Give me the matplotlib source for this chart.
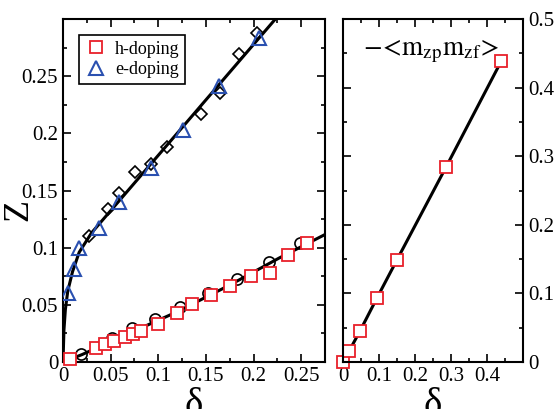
# Z vs doping, with <m_zp m_zf> correlation on the right
import matplotlib
matplotlib.use('Agg')
import matplotlib.pyplot as plt
from matplotlib.ticker import MultipleLocator

plt.rcParams['font.family'] = ['Liberation Serif', 'DejaVu Serif']
plt.rcParams['mathtext.fontset'] = 'stix'

# left panel, h-doping (red squares) and black circles
h_x = [0.0073, 0.035, 0.044, 0.054, 0.065, 0.0735, 0.0823, 0.0997, 0.12, 0.1357,
       0.1555, 0.1757, 0.197, 0.2176, 0.2364, 0.2566]
h_y = [0.0023, 0.0125, 0.0155, 0.0187, 0.0216, 0.0245, 0.0274, 0.033, 0.0431, 0.0507,
       0.0586, 0.0667, 0.0752, 0.078, 0.0935, 0.1037]
circ_x = [0.0188, 0.051, 0.0725, 0.0962, 0.1224, 0.152, 0.1823, 0.2158, 0.249]
circ_y = [0.007, 0.0207, 0.0294, 0.038, 0.0484, 0.06, 0.073, 0.0877, 0.1037]
low_fit_x = [0, 0.02, 0.07, 0.12, 0.175, 0.227, 0.275]
low_fit_y = [0, 0.0065, 0.0253, 0.044, 0.0673, 0.091, 0.1115]

# e-doping (blue triangles) and black diamonds
e_x = [0.0056, 0.0115, 0.017, 0.038, 0.059, 0.092, 0.126, 0.164, 0.206]
e_y = [0.06, 0.0813, 0.0994, 0.1168, 0.140, 0.1699, 0.2028, 0.2413, 0.2835]
dia_x = [0.0272, 0.0474, 0.0586, 0.0753, 0.092, 0.109, 0.145, 0.165, 0.185, 0.204]
dia_y = [0.110, 0.1334, 0.148, 0.1658, 0.173, 0.188, 0.2168, 0.2349, 0.2698, 0.288]
up_fit_x = [0, 0.001, 0.0025, 0.005, 0.01, 0.017, 0.03, 0.06, 0.225]
up_fit_y = [0, 0.028, 0.046, 0.062, 0.079, 0.096, 0.113, 0.142, 0.302]

# right panel
m_x = [0, 0.017, 0.047, 0.094, 0.15, 0.286, 0.44]
m_y = [0, 0.016, 0.045, 0.093, 0.149, 0.284, 0.439]

red = '#e8202a'
blue = '#2a50b0'

fig = plt.figure(figsize=(5.59, 4.09), dpi=100)
ax1 = fig.add_axes([0.1127, 0.1149, 0.4687, 0.8386])
ax2 = fig.add_axes([0.6136, 0.1149, 0.3220, 0.8386])

ax1.plot(low_fit_x, low_fit_y, color='black', lw=2.2, zorder=1)
ax1.plot(up_fit_x, up_fit_y, color='black', lw=2.2, zorder=1)
ax1.plot(circ_x, circ_y, 'o', ms=8, mfc='none', mec='black', mew=1.2, zorder=2)
ax1.plot(dia_x, dia_y, 'D', ms=6.5, mfc='none', mec='black', mew=1.2, zorder=2)
ax1.plot(h_x, h_y, 's', ms=8, mfc='white', mec=red, mew=1.3, zorder=3, label='h-doping',
         clip_on=False)
ax1.plot(e_x, e_y, '^', ms=9.5, mfc='none', mec=blue, mew=1.5, zorder=3, label='e-doping')

ax1.set_xlim(0, 0.275)
ax1.set_ylim(0, 0.3)
ax1.set_xticks([0, 0.05, 0.1, 0.15, 0.2, 0.25])
ax1.set_xticklabels(['0', '0.05', '0.1', '0.15', '0.2', '0.25'])
ax1.set_yticks([0, 0.05, 0.1, 0.15, 0.2, 0.25])
ax1.set_yticklabels(['0', '0.05', '0.1', '0.15', '0.2', '0.25'])
ax1.xaxis.set_minor_locator(MultipleLocator(0.025))
ax1.yaxis.set_minor_locator(MultipleLocator(0.025))
ax1.set_xlabel('δ', fontsize=28, labelpad=1)
ax1.set_ylabel('Z', fontsize=26)
ax1.yaxis.set_label_coords(-0.107, 0.443)

leg = ax1.legend(loc='upper left', bbox_to_anchor=(0.061, 0.953), borderaxespad=0,
                 fancybox=False, edgecolor='black', framealpha=1, fontsize=13,
                 handletextpad=0.4, borderpad=0.3, labelspacing=0.2, handlelength=1.3)
leg.get_frame().set_linewidth(1.2)

ax2.plot(m_x, m_y, color='black', lw=2.2, zorder=1)
ax2.plot(m_x, m_y, 's', ms=8, mfc='white', mec=red, mew=1.3, zorder=2, clip_on=False)
ax2.set_xlim(0, 0.5)
ax2.set_ylim(0, 0.5)
ax2.set_xticks([0, 0.1, 0.2, 0.3, 0.4])
ax2.set_xticklabels(['0', '0.1', '0.2', '0.3', '0.4'])
ax2.set_yticks([0, 0.1, 0.2, 0.3, 0.4, 0.5])
ax2.set_yticklabels(['0', '0.1', '0.2', '0.3', '0.4', '0.5'])
ax2.xaxis.set_minor_locator(MultipleLocator(0.05))
ax2.yaxis.set_minor_locator(MultipleLocator(0.05))
ax2.yaxis.tick_right()
ax2.set_xlabel('δ', fontsize=28, labelpad=1)
ax2.text(0.11, 0.895, r'$-\!<\!\mathrm{m}_{\mathrm{zp}}\mathrm{m}_{\mathrm{zf}}\!>$',
         transform=ax2.transAxes, fontsize=19.5, ha='left', va='baseline')

for ax in (ax1, ax2):
    ax.tick_params(which='both', direction='in', top=True, bottom=True, left=True, right=True,
                   labelsize=15, width=1.2)
    ax.tick_params(which='major', length=6)
    ax.tick_params(which='minor', length=3)
    for s in ax.spines.values():
        s.set_linewidth(1.5)
ax2.tick_params(labelleft=False, labelright=True)

fig.savefig('out.png', dpi=100)
